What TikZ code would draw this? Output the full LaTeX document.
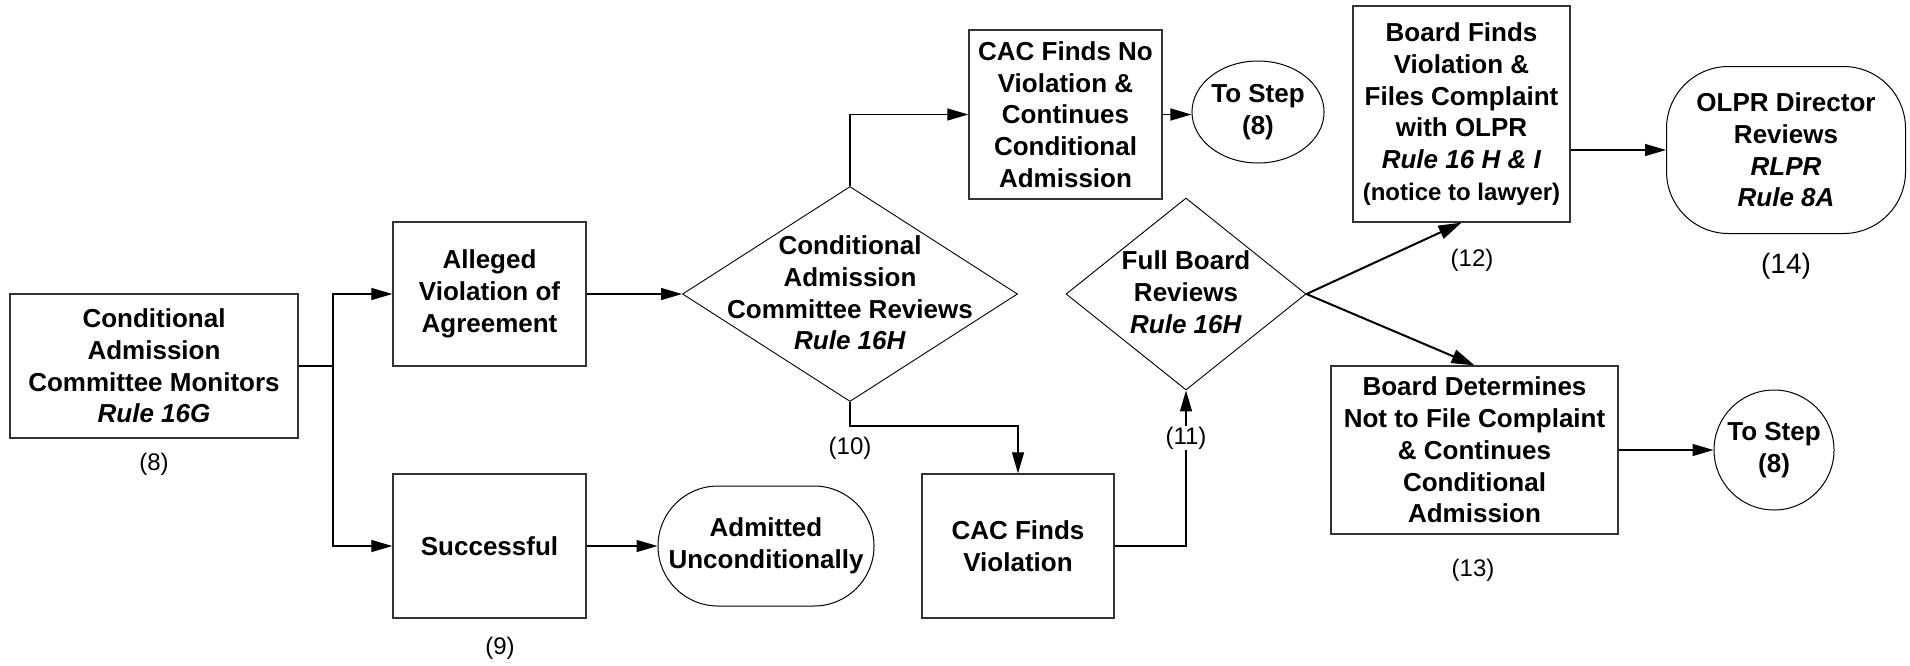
\documentclass[tikz,border=0pt]{standalone}
\usepackage{fontspec}
\setmainfont{Liberation Sans}
\usetikzlibrary{arrows.meta,shapes.geometric,calc}
\begin{document}
\begin{tikzpicture}[x=1pt,y=-1pt,
  txt/.style={font=\fontsize{26}{31.7}\selectfont\bfseries, align=center, inner sep=0pt},
  box/.style={txt, draw=black!80, line width=1.3pt, rectangle},
  term/.style={txt, draw=black, line width=1pt, rectangle},
  dia/.style={draw=black, shape=diamond, line width=0.9pt, inner sep=0pt},
  lab/.style={font=\fontsize{24}{28}\selectfont, inner sep=0pt},
  conn/.style={draw=black, line width=1.2pt},
  arr/.style={conn, -{Triangle[length=21pt,width=12pt]}},
  tarr/.style={draw=black, line width=2pt, -{Triangle[length=23pt,width=14pt]}}
]
\useasboundingbox (0,0) rectangle (1910,665);

% boxes
\node[box, minimum width=288pt, minimum height=144pt] (mon) at (154,366)
  {Conditional\\Admission\\Committee Monitors\\\textit{Rule 16G}};
\node[box, minimum width=193pt, minimum height=144pt] (all) at (489.5,294)
  {Alleged\\Violation of\\Agreement};
\node[box, minimum width=193pt, minimum height=144pt] (suc) at (489.5,546)
  {Successful};
\node[term, rounded corners=60pt, minimum width=216pt, minimum height=120pt] (adm) at (766,546)
  {Admitted\\Unconditionally};
\node[dia, minimum width=335pt, minimum height=215pt] (d1) at (850,294) {};
\node[txt] (d1t) at (850,293) {Conditional\\Admission\\Committee Reviews\\\textit{Rule 16H}};
\node[box, minimum width=193pt, minimum height=169pt] (cno) at (1065.5,114.5)
  {CAC Finds No\\Violation \&\\Continues\\Conditional\\Admission};
\node[term, ellipse, minimum width=118pt, minimum height=102pt] (st1) at (1258,112)
  {To Step\\(8)};
\node[box, minimum width=192pt, minimum height=144pt] (cv) at (1018,546)
  {CAC Finds\\Violation};
\node[dia, minimum width=240pt, minimum height=192pt] (d2) at (1186,294) {};
\node[txt] (d2t) at (1186,292) {Full Board\\Reviews\\\textit{Rule 16H}};
\node[box, minimum width=217pt, minimum height=216pt] (bf) at (1461.5,114)
  {Board Finds\\Violation \&\\Files Complaint\\with OLPR\\\textit{Rule 16 H \& I}\\{\fontsize{24}{31.7}\selectfont (notice to lawyer)}};
\node[term, rounded corners=62pt, minimum width=239pt, minimum height=167pt] (olpr) at (1786,150)
  {OLPR Director\\Reviews\\\textit{RLPR}\\\textit{Rule 8A}};
\node[box, minimum width=287pt, minimum height=168pt] (bd) at (1474.5,450)
  {Board Determines\\Not to File Complaint\\\& Continues\\Conditional\\Admission};
\node[term, circle, minimum size=120pt] (st2) at (1774,450)
  {To Step\\(8)};

% connectors
\coordinate (j) at (333,366);
\coordinate (k) at (850,426);
\draw[conn] (mon.east) -- (j);
\draw[arr] (j) |- (all.west);
\draw[arr] (j) |- (suc.west);
\draw[arr] (all.east) -- (d1.west);
\draw[arr] (suc.east) -- (adm.west);
\draw[arr] (d1.north) |- (cno.west);
\draw[arr] (cno.east) -- (cno.east -| st1.west);
\draw[arr] (d1.south) -- (k) -| (cv.north);
\draw[arr] (cv.east) -| (d2.south);
\draw[tarr] (d2.east) -- (bf.south);
\draw[tarr] (d2.east) -- (bd.north);
\draw[arr] (olpr.west -| bf.east) -- (olpr.west);
\draw[arr] (bd.east) -- (st2.west);

% step labels
\node[lab] (l8) at (154,464) {(8)};
\node[lab] (l9) at (500,648) {(9)};
\node[lab] (l10) at (850,448) {(10)};
\node[lab, fill=white, inner sep=1pt] (l11) at (1186,438) {(11)};
\node[lab] (l12) at (1472,260) {(12)};
\node[lab] (l13) at (1473,570) {(13)};
\node[font=\fontsize{28}{32}\selectfont, inner sep=0pt] (l14) at (1786,266) {(14)};
\end{tikzpicture}
\end{document}
